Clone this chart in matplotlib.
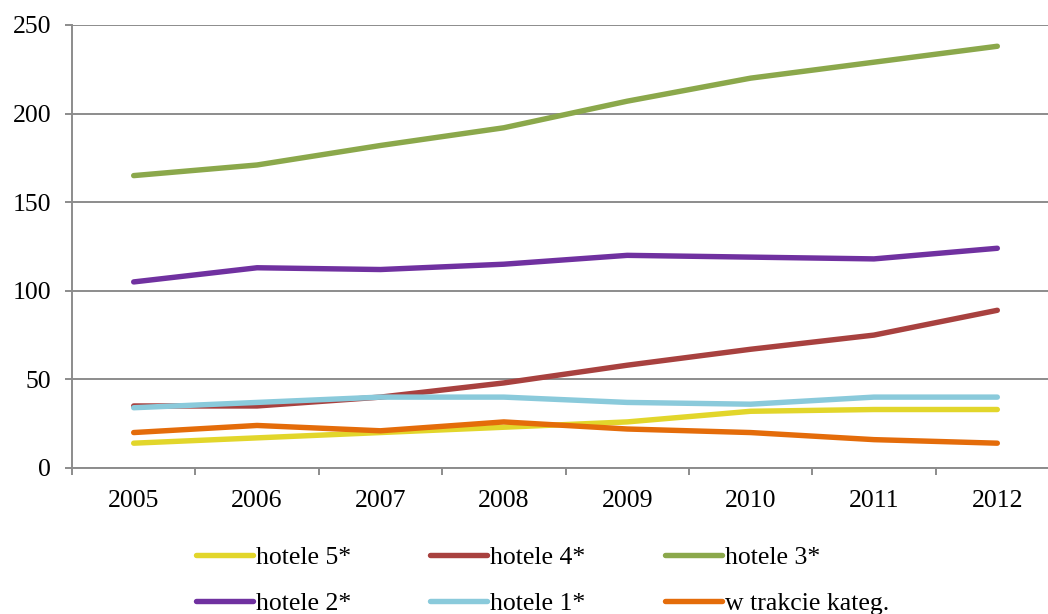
import matplotlib
matplotlib.use("Agg")
import matplotlib.pyplot as plt
import numpy as np

plt.rcParams['font.family'] = ['Liberation Serif', 'DejaVu Serif']

# Data
years = ['2005', '2006', '2007', '2008', '2009', '2010', '2011', '2012']
hotele_5 = [14, 17, 20, 23, 26, 32, 33, 33]
hotele_4 = [35, 35, 40, 48, 58, 67, 75, 89]
hotele_3 = [165, 171, 182, 192, 207, 220, 229, 238]
hotele_2 = [105, 113, 112, 115, 120, 119, 118, 124]
hotele_1 = [34, 37, 40, 40, 37, 36, 40, 40]
w_trakcie = [20, 24, 21, 26, 22, 20, 16, 14]

series = [
    ('hotele 5*', hotele_5, '#E2D62B'),
    ('hotele 4*', hotele_4, '#A8413F'),
    ('hotele 3*', hotele_3, '#8BA84B'),
    ('hotele 2*', hotele_2, '#7031A0'),
    ('hotele 1*', hotele_1, '#8ACADB'),
    ('w trakcie kateg.', w_trakcie, '#E46C0A'),
]

fig = plt.figure(figsize=(10.48, 6.14), dpi=100)
ax = fig.add_axes([0.0687, 0.2378, 0.9418, 0.7215])

x = np.arange(len(years))
lines = []
for label, vals, color in series:
    ln, = ax.plot(x, vals, color=color, lw=3.9, label=label, solid_capstyle='round')
    lines.append(ln)

grid_col = '#8C8C8C'
ax.set_ylim(0, 250)
ax.set_yticks([0, 50, 100, 150, 200, 250])
ax.yaxis.grid(True, color=grid_col, lw=1.4)
ax.set_axisbelow(True)
ax.set_xlim(-0.5, len(years) - 0.5)
ax.set_xticks(x)
ax.set_xticklabels(years)
ax.set_xticks(np.arange(-0.5, len(years)), minor=True)
ax.tick_params(axis='x', which='major', length=0, pad=16, labelsize=18.5)
ax.tick_params(axis='x', which='minor', length=5, width=1.4, color=grid_col)
ax.tick_params(axis='y', length=5, width=1.4, color=grid_col, pad=10, labelsize=18.5)

for side in ['top', 'right']:
    ax.spines[side].set_visible(False)
for side in ['left', 'bottom']:
    ax.spines[side].set_color(grid_col)
    ax.spines[side].set_linewidth(1.4)

# legend fills row by row: reorder for matplotlib's column-wise filling
order = [0, 3, 1, 4, 2, 5]
fig.legend([lines[i] for i in order], [series[i][0] for i in order],
           loc='upper left', bbox_to_anchor=(0.187, 0.110), ncol=3, frameon=False,
           fontsize=18.5, handlelength=2.2, handletextpad=0.12, columnspacing=3.1,
           labelspacing=0.87, borderpad=0, borderaxespad=0)

plt.savefig('out.png', dpi=100)
plt.close(fig)
